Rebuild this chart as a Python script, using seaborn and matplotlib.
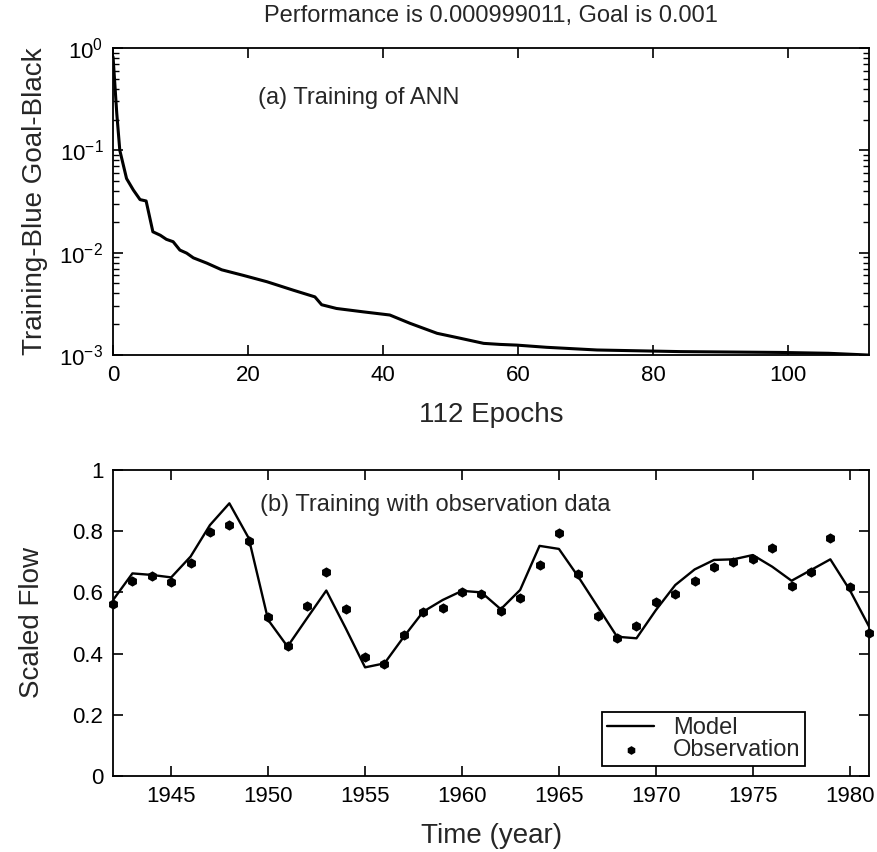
import numpy as np
import pandas as pd
import matplotlib
matplotlib.use("Agg")
import matplotlib.pyplot as plt
import seaborn as sns
from matplotlib.ticker import LogLocator, NullFormatter, FixedLocator

# ---- data: training performance (a)
epochs = [0, 0.55, 1.0, 2.0, 3.0, 4.0, 4.9, 5.9, 7.0, 7.9, 8.9, 9.9, 10.9, 11.9,
          13.9, 16.1, 19.3, 22.8, 26.7, 29.9, 30.9, 33.1, 37.1, 41.0, 44.0, 48.0,
          51.4, 54.9, 57.3, 59.8, 64.2, 71.7, 84.0, 98.8, 106.0, 112.0]
performance = [0.82, 0.23, 0.10, 0.053, 0.041, 0.033, 0.032, 0.016, 0.0148, 0.0135,
               0.0128, 0.0106, 0.0099, 0.0089, 0.0079, 0.0068, 0.0060, 0.0052,
               0.0043, 0.0037, 0.0031, 0.00285, 0.00264, 0.00246, 0.00204, 0.00163,
               0.00146, 0.00130, 0.00127, 0.00125, 0.00119, 0.00112, 0.00108,
               0.00106, 0.00104, 0.000999]

# ---- data: training with observation data (b)
years = list(range(1942, 1982))
model = [0.575, 0.662, 0.657, 0.649, 0.717, 0.820, 0.891, 0.777, 0.510, 0.423,
         0.515, 0.606, 0.483, 0.355, 0.368, 0.455, 0.537, 0.575, 0.605, 0.600,
         0.545, 0.608, 0.752, 0.742, 0.651, 0.553, 0.455, 0.450, 0.542, 0.624,
         0.675, 0.706, 0.708, 0.722, 0.684, 0.638, 0.673, 0.708, 0.608, 0.488]
observation = [0.562, 0.638, 0.655, 0.633, 0.695, 0.798, 0.820, 0.768, 0.520, 0.426,
               0.556, 0.665, 0.545, 0.390, 0.365, 0.461, 0.535, 0.550, 0.600, 0.595,
               0.539, 0.582, 0.690, 0.793, 0.659, 0.524, 0.452, 0.491, 0.570, 0.594,
               0.637, 0.682, 0.700, 0.708, 0.744, 0.621, 0.666, 0.779, 0.619, 0.468]

title_text = "Performance is 0.000999011, Goal is 0.001"

sns.set_theme(style="ticks")
plt.rcParams['font.family'] = ['Liberation Sans', 'DejaVu Sans']
plt.rcParams['axes.linewidth'] = 1.3
plt.rcParams['axes.edgecolor'] = 'black'

fig = plt.figure(figsize=(8.77, 8.52), dpi=100)
ax1 = fig.add_axes([0.1289, 0.5833, 0.8621, 0.3604])
ax2 = fig.add_axes([0.1289, 0.0892, 0.8621, 0.3592])

df1 = pd.DataFrame({"epoch": epochs, "perf": performance})
sns.lineplot(data=df1, x="epoch", y="perf", ax=ax1, color="black", linewidth=2.2)
ax1.set_yscale("log")
ax1.set_xlim(0, 112)
ax1.set_ylim(1e-3, 1)
ax1.set_xticks([0, 20, 40, 60, 80, 100])
ax1.yaxis.set_major_locator(FixedLocator([1e-3, 1e-2, 1e-1, 1]))
ax1.yaxis.set_minor_locator(LogLocator(base=10, subs=np.arange(2, 10)))
ax1.yaxis.set_minor_formatter(NullFormatter())
ax1.set_yticklabels([r"$\mathregular{10^{-3}}$", r"$\mathregular{10^{-2}}$",
                     r"$\mathregular{10^{-1}}$", r"$\mathregular{10^{0}}$"])
ax1.set_xlabel("112 Epochs", fontsize=20, labelpad=12)
ax1.set_ylabel("Training-Blue Goal-Black", fontsize=20, labelpad=8)
ax1.set_title(title_text, fontsize=17, pad=19)
ax1.text(0.192, 0.837, "(a) Training of ANN", transform=ax1.transAxes,
         fontsize=17, va="center", ha="left")

df2 = pd.DataFrame({"year": years, "model": model, "obs": observation})
sns.lineplot(data=df2, x="year", y="model", ax=ax2, color="black", linewidth=1.7,
             label="Model")
sns.scatterplot(data=df2, x="year", y="obs", ax=ax2, color="black", marker="h",
                s=55, edgecolor="black", linewidth=0, label="Observation",
                clip_on=False, zorder=5)
ax2.set_xlim(1942, 1981)
ax2.set_ylim(0, 1)
ax2.set_xticks([1945, 1950, 1955, 1960, 1965, 1970, 1975, 1980])
ax2.set_yticks([0, 0.2, 0.4, 0.6, 0.8, 1.0])
ax2.set_yticklabels(["0", "0.2", "0.4", "0.6", "0.8", "1"])
ax2.set_xlabel("Time (year)", fontsize=20, labelpad=12)
ax2.set_ylabel("Scaled Flow", fontsize=20, labelpad=20)
ax2.text(0.194, 0.886, "(b) Training with observation data", transform=ax2.transAxes,
         fontsize=17, va="center", ha="left")
leg = ax2.legend(loc="lower right", bbox_to_anchor=(0.922, 0.018), fontsize=17,
                 frameon=True, fancybox=False, framealpha=1, edgecolor="black",
                 borderpad=0.2, handlelength=2.0, labelspacing=0.0,
                 handletextpad=0.8, markerscale=0.85, borderaxespad=0.2)
leg.get_frame().set_linewidth(1.3)

for ax in (ax1, ax2):
    ax.tick_params(which="both", direction="in", top=True, right=True,
                   labelsize=16, colors="black")
    ax.tick_params(which="major", length=7, width=1.2, pad=7)
    ax.tick_params(which="minor", length=4, width=1.0)
    for sp in ax.spines.values():
        sp.set_visible(True)
        sp.set_color("black")

fig.savefig("out.png", dpi=100, facecolor="white")
